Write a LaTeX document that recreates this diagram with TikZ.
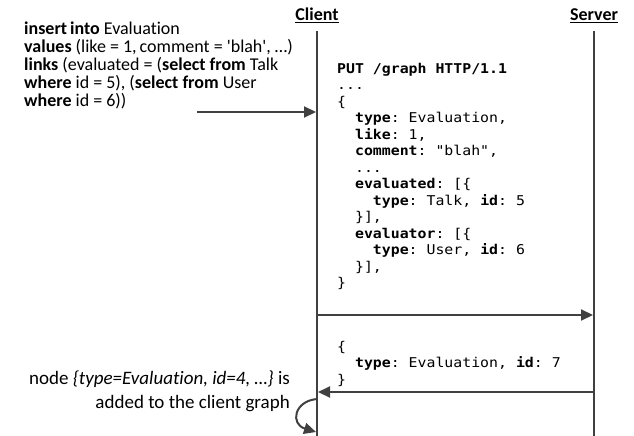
\documentclass[tikz,border=0pt]{standalone}
\usepackage{fontspec}
\setmainfont{Carlito}[Ligatures={TeXOff,NoCommon}]
\newfontfamily\code[FakeStretch=1.1]{DejaVu Sans Mono}
\usetikzlibrary{arrows.meta}
\definecolor{ln}{HTML}{404040}
\newcommand{\kw}[1]{\textbf{#1}}
\newcommand{\ind}[1]{\hphantom{#1}}
\tikzset{
  lifeline/.style={draw=ln, line width=1.6pt},
  msg/.style={draw=ln, line width=2pt, -{Triangle[length=12pt,width=11pt]}},
  actor/.style={font=\fontsize{18}{18}\selectfont\bfseries, anchor=base},
  prose/.style={font=\fontsize{18}{18}\selectfont, inner sep=0pt},
  listing/.style={font=\code\fontsize{13.5}{16.5}\selectfont\frenchspacing, align=left, inner sep=0pt, anchor=north west},
}
\begin{document}
\begin{tikzpicture}[x=1pt, y=-1pt]
\useasboundingbox (0,0) rectangle (634,436);

% participants and their lifelines
\node[actor] (client) at (317,21) {\underline{Client}};
\node[actor] (server) at (594,21) {\underline{Server}};
\coordinate (cTop) at (317,31);
\coordinate (cBot) at (317,436);
\coordinate (sTop) at (594,31);
\coordinate (sBot) at (594,436);
\draw[lifeline] (cTop) -- (cBot);
\draw[lifeline] (sTop) -- (sBot);

% query issued by the application
\node[prose, align=left, anchor=north west] (query) at (24,22)
  {\kw{insert\,into} Evaluation\\
   \kw{values} (like = 1,\,comment = 'blah', \ldots)\\
   \kw{links} (evaluated = (\kw{select from} Talk\\
   \kw{where} id = 5), (\kw{select from} User\\
   \kw{where} id = 6))};
\coordinate (qStart) at (197,112);
\coordinate (qEnd) at (316,112);
\draw[msg] (qStart) -- (qEnd);

% request body
\node[listing] (request) at (337,63)
  {\kw{PUT /graph HTTP/1.1}\\
   ...\\
   \{\\
   \ind{xx}\kw{type}: Evaluation,\\
   \ind{xx}\kw{like}: 1,\\
   \ind{xx}\kw{comment}: "blah",\\
   \ind{xx}...\\
   \ind{xx}\kw{evaluated}: [\{\\
   \ind{xxxx}\kw{type}: Talk, \kw{id}: 5\\
   \ind{xx}\}],\\
   \ind{xx}\kw{evaluator}: [\{\\
   \ind{xxxx}\kw{type}: User, \kw{id}: 6\\
   \ind{xx}\}],\\
   \}};

\coordinate (reqA) at (318,315);
\coordinate (reqB) at (593,315);
\draw[msg] (reqA) -- (reqB);

% response body
\node[listing] (response) at (337,341)
  {\{\\
   \ind{xx}\kw{type}: Evaluation, \kw{id}: 7\\
   \}};

\coordinate (resA) at (593,392);
\coordinate (resB) at (318,392);
\draw[msg] (resA) -- (resB);

% local effect on the client
\node[prose, align=right, anchor=north east, font=\fontsize{19}{23.5}\selectfont] (effect) at (290,371)
  {node \textit{\{type=Evaluation, id=4, \ldots\}} is\\
   added to the client graph};
\coordinate (loopA) at (317,399);
\coordinate (loopB) at (316,432);
\draw[msg] (loopA) .. controls (294,401) and (290,424) .. (loopB);
\end{tikzpicture}
\end{document}
